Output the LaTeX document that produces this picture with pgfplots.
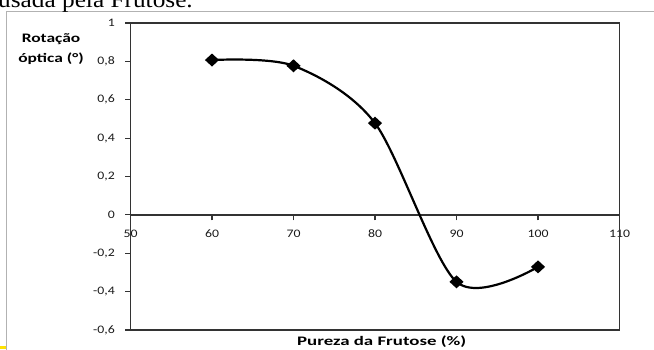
\documentclass[border=0pt]{standalone}
\usepackage{pgfplots}
\pgfplotsset{compat=1.18}
\usepackage{fontspec}
\setmainfont{Carlito}
\newfontfamily\tickfont[FakeStretch=1.2]{Carlito}
\newfontfamily\labfont[FakeStretch=1.34]{Carlito}
\newfontfamily\xlabfont[FakeStretch=1.45]{Carlito}
\newfontfamily\topfont[FakeStretch=1.1]{Liberation Serif}
\begin{document}
\begin{tikzpicture}[x=1bp,y=1bp]
\useasboundingbox (0,0) rectangle (654,349);
% outer chart frame
\draw[color=black!30, line width=1.3bp] (6.3,-5) -- (6.3,337.3) -- (660,337.3);
\fill[yellow!85!orange] (0,0) rectangle (5.5,3.5);
% cut-off text above the chart
\node[anchor=base west, inner sep=0pt] at (-2,341.6) {\topfont\fontsize{23bp}{27bp}\selectfont usada pela Frutose.};
\begin{axis}[
  at={(130.5bp,19bp)}, anchor=south west,
  scale only axis, width=489bp, height=307bp,
  xmin=50, xmax=110, ymin=-0.6, ymax=1,
  axis x line=middle, axis y line=left,
  axis line style={-, line width=1.3bp, color=black!80},
  xtick={50,60,70,80,90,100,110},
  ytick={-0.6,-0.4,-0.2,0,0.2,0.4,0.6,0.8,1},
  hide obscured x ticks=false, hide obscured y ticks=false,
  tick align=outside,
  major tick length=5.5bp,
  tick style={line width=1.1bp, color=black!80},
  /pgf/number format/assume math mode=true,
  /pgf/number format/use comma,
  /pgf/number format/fixed,
  ticklabel style={font=\tickfont\fontsize{11.5bp}{13bp}\selectfont, inner sep=0pt, text=black!90},
  yticklabel style={anchor=east, xshift=-10bp},
  xticklabel style={anchor=north, yshift=-9bp},
  clip=false,
]
\draw[line width=1.3bp, color=black!80] (rel axis cs:0,0) rectangle (rel axis cs:1,1);
\addplot[smooth, tension=0.5, line width=2.2bp, black,
  mark=diamond*, mark size=5bp, mark options={xscale=1.45, solid, fill=black}]
  coordinates {(60,0.807) (70,0.777) (80,0.478) (90,-0.349) (100,-0.271)};
\end{axis}
\node[align=center, inner sep=0pt, font=\labfont\bfseries\fontsize{13bp}{20bp}\selectfont] at (51,300) {Rotação\\óptica (°)};
\node[anchor=base, inner sep=0pt, font=\xlabfont\bfseries\fontsize{13bp}{15bp}\selectfont] at (381.7,3.3) {Pureza da Frutose (\%)};
\end{tikzpicture}
\end{document}
